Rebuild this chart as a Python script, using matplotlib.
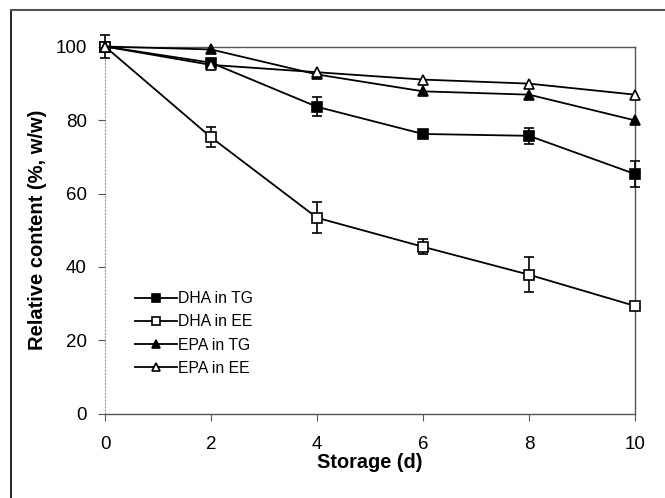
import matplotlib
matplotlib.use("Agg")
import matplotlib.pyplot as plt
from matplotlib.lines import Line2D

plt.rcParams['font.family'] = ['Liberation Sans', 'DejaVu Sans']

days = [0, 2, 4, 6, 8, 10]
dha_tg = [100, 95.6, 83.6, 76.2, 75.7, 65.3]
dha_tg_err = [3, 1.0, 2.6, 0.8, 2.2, 3.6]
dha_ee = [100, 75.3, 53.4, 45.5, 37.9, 29.4]
dha_ee_err = [1.0, 2.7, 4.2, 2.0, 4.8, 1.2]
epa_tg = [100, 99.2, 92.4, 87.8, 86.9, 79.9]
epa_ee = [100, 95.0, 93.0, 91.0, 89.9, 86.9]
labels = ["DHA in TG", "DHA in EE", "EPA in TG", "EPA in EE"]
xticks = [0, 2, 4, 6, 8, 10]
yticks = [0, 20, 40, 60, 80, 100]

fig = plt.figure(figsize=(6.65, 4.98), dpi=100)
ax = fig.add_axes([0.1579, 0.1687, 0.7970, 0.7379])

ms = 7.2
kw = dict(color='black', lw=1.3, markeredgecolor='black', markeredgewidth=1.2, ms=ms)
ekw = dict(ecolor='black', elinewidth=1.2, capsize=3.5, capthick=1.2)

for ys, err, fc in [(dha_tg, dha_tg_err, 'black'), (dha_ee, dha_ee_err, 'white')]:
    cont = ax.errorbar(days, ys, yerr=err, marker='s', markerfacecolor=fc, zorder=3, **kw, **ekw)
    for art in cont.lines[0:1] + tuple(cont.lines[1]) + tuple(cont.lines[2]):
        if art is not None:
            art.set_clip_on(False)
for ys, fc in [(epa_tg, 'black'), (epa_ee, 'white')]:
    ln, = ax.plot(days, ys, marker='^', markerfacecolor=fc, zorder=4, **kw)
    ln.set_clip_on(False)

ax.set_xlim(0, 10)
ax.set_ylim(0, 100)
ax.set_xticks(xticks)
ax.set_yticks(yticks)
ax.tick_params(axis='both', direction='out', length=5, width=0.8, color='#555555',
               labelsize=13.5, pad=8)
ax.tick_params(axis='x', pad=11)

for s in ['top', 'right', 'bottom']:
    ax.spines[s].set_color('#555555')
    ax.spines[s].set_linewidth(1.0)
ax.spines['left'].set_color('#999999')
ax.spines['left'].set_linestyle((0, (1, 2)))
ax.spines['left'].set_linewidth(0.8)
for sp in ax.spines.values():
    sp.set_zorder(1)

ax.set_xlabel("Storage (d)", fontsize=14.3, fontweight='bold', labelpad=0)
ax.set_ylabel("Relative content (%, w/w)", fontsize=14.5, fontweight='bold', labelpad=6)

lkw = dict(kw)
lkw['ms'] = 6
handles = [
    Line2D([], [], marker='s', markerfacecolor='black', **lkw),
    Line2D([], [], marker='s', markerfacecolor='white', **lkw),
    Line2D([], [], marker='^', markerfacecolor='black', **lkw),
    Line2D([], [], marker='^', markerfacecolor='white', **lkw),
]
ax.legend(handles, labels, loc='upper left', bbox_to_anchor=(0.057, 0.334),
          frameon=False, fontsize=11.3, handlelength=2.65, handletextpad=0.1,
          labelspacing=0.52, borderaxespad=0, borderpad=0)

# outer figure frame (left and top edges)
fig.add_artist(Line2D([11/665, 11/665], [0, 1 - 10/498], transform=fig.transFigure,
                      color='black', lw=1.2))
fig.add_artist(Line2D([11/665, 1], [1 - 10/498, 1 - 10/498], transform=fig.transFigure,
                      color='#555555', lw=1.5))

fig.savefig("out.png", dpi=100)
